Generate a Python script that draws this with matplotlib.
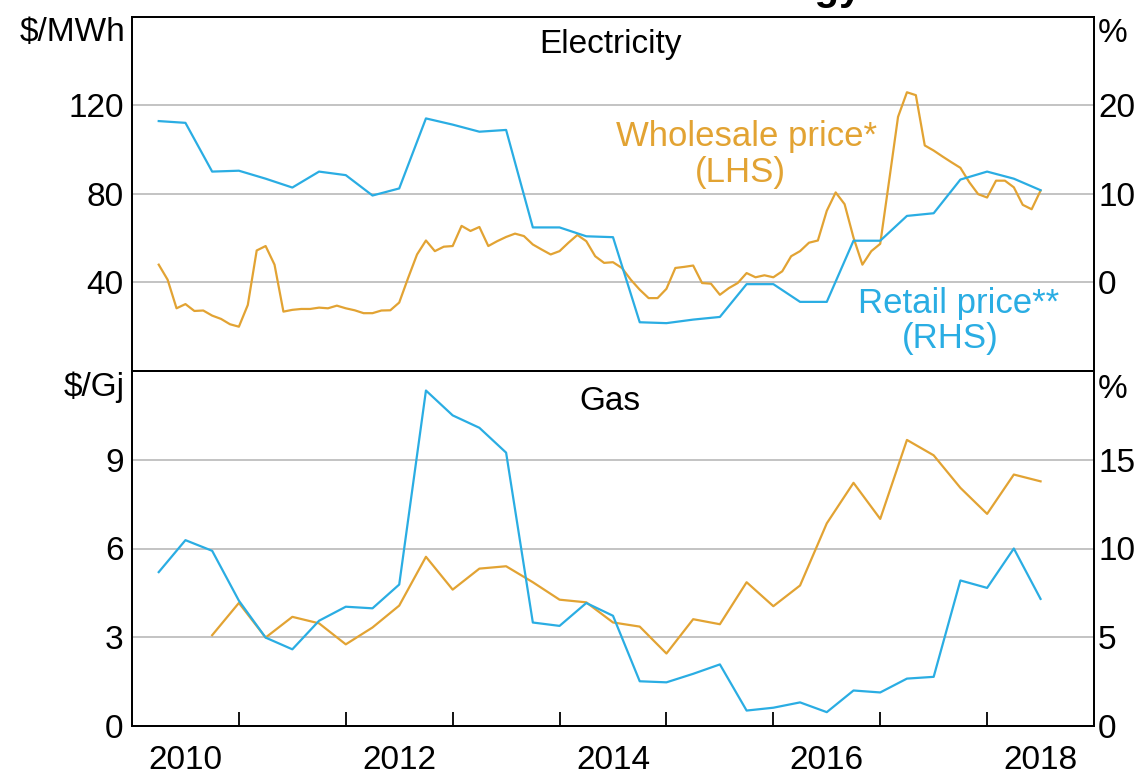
import pandas as pd
import matplotlib
matplotlib.use("Agg")
import matplotlib.pyplot as plt

plt.rcParams['font.family'] = ['Liberation Sans', 'DejaVu Sans']

# electricity wholesale price, $/MWh, monthly from Apr 2010 (LHS)
elec_wholesale = [48.0, 41.2, 28.3, 30.2, 27.1, 27.3, 25.0, 23.5, 21.1, 20.0,
                  29.8, 54.4, 56.4, 48.0, 26.8, 27.6, 28.0, 28.0, 28.6, 28.3,
                  29.5, 28.3, 27.4, 26.1, 26.1, 27.3, 27.4, 30.9, 42.0, 52.6,
                  58.9, 54.1, 56.1, 56.4, 65.5, 63.2, 65.0, 56.4, 58.6, 60.5,
                  62.0, 60.9, 57.1, 54.8, 52.6, 54.1, 57.9, 61.4, 58.6, 51.8,
                  48.8, 49.1, 46.5, 41.2, 36.7, 32.9, 32.9, 37.1, 46.5, 47.0,
                  47.6, 39.7, 39.4, 34.4, 37.4, 39.7, 44.2, 42.3, 43.2, 42.3,
                  45.0, 51.8, 54.1, 57.9, 58.9, 72.3, 80.6, 75.3, 60.2, 48.0,
                  54.1, 57.4, 85.9, 114.7, 125.8, 124.5, 101.8, 99.5, 96.8, 94.2,
                  91.7, 85.2, 79.8, 78.3, 85.9, 85.9, 82.9, 75.0, 73.0, 81.4]
# electricity retail price, % change, quarterly from Jun qtr 2010 (RHS)
elec_retail = [18.2, 18.0, 12.5, 12.6, 11.7, 10.7, 12.5, 12.1, 9.8, 10.6,
               18.5, 17.8, 17.0, 17.2, 6.2, 6.2, 5.2, 5.1, -4.5, -4.6,
               -4.2, -3.9, -0.2, -0.2, -2.2, -2.2, 4.7, 4.7, 7.5, 7.8,
               11.6, 12.5, 11.7, 10.4]
# gas wholesale price, $/Gj, quarterly from Dec qtr 2010 (LHS)
gas_wholesale = [3.07, 4.16, 2.99, 3.69, 3.47, 2.76, 3.33, 4.07, 5.72, 4.61,
                 5.32, 5.40, 4.86, 4.27, 4.18, 3.50, 3.36, 2.45, 3.61, 3.44,
                 4.86, 4.05, 4.75, 6.85, 8.22, 7.0, 9.67, 9.15, 8.05, 7.17,
                 8.5, 8.27]
# gas retail price, % change, quarterly from Jun qtr 2010 (RHS)
gas_retail = [8.67, 10.47, 9.87, 7.06, 4.98, 4.32, 5.93, 6.72, 6.63, 7.97,
              18.9, 17.5, 16.8, 15.4, 5.83, 5.64, 6.93, 6.21, 2.52, 2.46,
              2.94, 3.47, 0.87, 1.03, 1.33, 0.78, 2.0, 1.89, 2.67, 2.77,
              8.2, 7.78, 10.0, 7.16]

year_labels = ['2010', '2012', '2014', '2016', '2018']


def dec_year(dates):
    return [d.year + (d.month - 1) / 12 for d in dates]


months = dec_year(pd.date_range('2010-04-01', periods=len(elec_wholesale), freq='MS'))
quarters = dec_year(pd.date_range('2010-04-01', periods=len(elec_retail), freq='3MS'))
gas_q = dec_year(pd.date_range('2010-04-01', periods=len(gas_retail), freq='3MS'))
gas_w_q = gas_q[len(gas_q) - len(gas_wholesale):]

ORANGE = '#E2A333'
BLUE = '#2AADE3'
GRID = '#B9B9B9'
FS = 24

W, H = 1138, 776
fig = plt.figure(figsize=(W / 100, H / 100), dpi=100)
ax1 = fig.add_axes([132 / W, 1 - 371 / H, 962 / W, 354.5 / H])
ax2 = fig.add_axes([132 / W, 1 - 726 / H, 962 / W, 355 / H])


def style(ax, tw, ylim, yt, ylim_r, yt_r):
    ax.set_xlim(2010, 2019)
    ax.set_ylim(*ylim)
    ax.set_yticks(yt)
    tw.set_ylim(*ylim_r)
    tw.set_yticks(yt_r)
    ax.yaxis.grid(True, color=GRID, lw=1.2)
    ax.set_axisbelow(True)
    ax.tick_params(axis='y', length=0, pad=6, labelsize=FS)
    tw.tick_params(axis='y', length=0, pad=3, labelsize=FS)
    for a in (ax, tw):
        for s in a.spines.values():
            s.set_linewidth(1.3)
            s.set_color('black')


tw1 = ax1.twinx()
ax1.plot(months, elec_wholesale, color=ORANGE, lw=1.6)
tw1.plot(quarters, elec_retail, color=BLUE, lw=1.6)
style(ax1, tw1, (0, 160), [40, 80, 120], (-10, 30), [0, 10, 20])
ax1.tick_params(axis='x', length=0, labelbottom=False)

tw2 = ax2.twinx()
ax2.plot(gas_w_q, gas_wholesale, color=ORANGE, lw=1.6)
tw2.plot(gas_q, gas_retail, color=BLUE, lw=1.6)
style(ax2, tw2, (0, 12), [0, 3, 6, 9], (0, 20), [0, 5, 10, 15])
ax2.set_xticks([int(y) + 0.5 for y in year_labels])
ax2.set_xticklabels(year_labels)
ax2.set_xticks(range(2011, 2019), minor=True)
ax2.tick_params(axis='x', which='major', length=0, pad=14, labelsize=FS)
ax2.tick_params(axis='x', which='minor', length=10, width=1.3, direction='in')


def ptext(x, y, s, **kw):
    fig.text(x / W, 1 - y / H, s, va='baseline', **kw)


ptext(611, 53, 'Electricity', ha='center', fontsize=FS)
ptext(610, 410, 'Gas', ha='center', fontsize=FS)
ptext(125, 41, '$/MWh', ha='right', fontsize=FS)
ptext(125, 396, '$/Gj', ha='right', fontsize=FS)
ptext(1098, 42, '%', ha='left', fontsize=FS)
ptext(1098, 398, '%', ha='left', fontsize=FS)
ptext(747, 146, 'Wholesale price*', ha='center', fontsize=25, color=ORANGE)
ptext(740, 182, '(LHS)', ha='center', fontsize=25, color=ORANGE)
ptext(959, 313, 'Retail price**', ha='center', fontsize=25, color=BLUE)
ptext(950, 348, '(RHS)', ha='center', fontsize=25, color=BLUE)
# chart title sits just above the cropped top edge, only descenders show
ptext(862, -0.5, 'Energy', ha='right', fontsize=29, fontweight='bold')

fig.savefig('out.png', dpi=100)
